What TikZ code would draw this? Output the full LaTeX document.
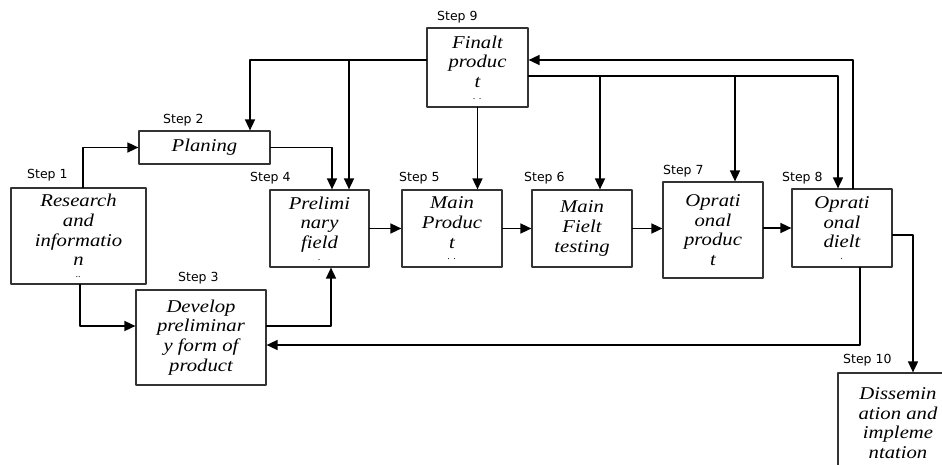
\documentclass[tikz,border=0pt]{standalone}
\usepackage{fontspec}
\usetikzlibrary{arrows.meta}
\newfontfamily\boxfont[FakeStretch=1.15]{Liberation Serif}
\newfontfamily\stepfont{DejaVu Sans}
\newcommand{\dotline}[1]{\\[-8pt]{\fontsize{9}{9}\selectfont #1}}
\begin{document}
\begin{tikzpicture}[x=1pt, y=-1pt, line cap=round, line join=round, >={Triangle[length=11pt,width=10pt]}]
	\tikzset{box/.style={draw=black!80, line width=1.2pt, align=center, inner sep=0pt, font=\boxfont\itshape\fontsize{18}{19.7}\selectfont},
		steplbl/.style={font=\stepfont\fontsize{12.5}{14}\selectfont, anchor=west, inner sep=0pt},
		flow/.style={->, line width=1.6pt}}
	\useasboundingbox (0,0) rectangle (942,465);
	% boxes
	\node[box, minimum width=135pt, minimum height=96pt] (s1) at (78.5,236) {Research\\and\\informatio\\n\dotline{..}};
	\node[box, minimum width=131pt, minimum height=33pt] (s2) at (204.5,147.5) {Planing};
	\node[box, minimum width=130pt, minimum height=95pt] (s3) at (201,337.5) {Develop\\preliminar\\y form of\\product};
	\node[box, minimum width=99pt, minimum height=77pt] (s4) at (319.5,228.5) {Prelimi\\nary\\field\dotline{.}};
	\node[box, minimum width=100pt, minimum height=77pt] (s5) at (452,228.5) {Main\\Produc\\t\dotline{. .}};
	\node[box, minimum width=100pt, minimum height=77pt] (s6) at (582,228.5) {Main\\Fielt\\testing};
	\node[box, minimum width=100pt, minimum height=96pt] (s7) at (713,230) {Oprati\\onal\\produc\\t};
	\node[box, minimum width=100pt, minimum height=78pt] (s8) at (842,228) {Oprati\\onal\\dielt\dotline{.}};
	\node[box, minimum width=101pt, minimum height=79pt] (s9) at (477.5,67.5) {Finalt\\produc\\t\dotline{. .}};
	\node[box, minimum width=120pt, minimum height=100pt] (s10) at (898,423) {Dissemin\\ation and\\impleme\\ntation};
	% step labels
	\node[steplbl] (l1) at (27,175) {Step 1};
	\node[steplbl] (l2) at (163,120) {Step 2};
	\node[steplbl] (l3) at (178,278) {Step 3};
	\node[steplbl] (l4) at (250,178) {Step 4};
	\node[steplbl] (l5) at (399,178) {Step 5};
	\node[steplbl] (l6) at (524,178) {Step 6};
	\node[steplbl] (l7) at (663,171) {Step 7};
	\node[steplbl] (l8) at (782,178) {Step 8};
	\node[steplbl] (l9) at (437,17) {Step 9};
	\node[steplbl] (l10) at (843,360) {Step 10};
	% main row
	\draw[flow] (s4) -- (s5);
	\draw[flow] (s5) -- (s6);
	\draw[flow] (s6) -- (s7.west |- s6);
	\draw[flow] (s7.east |- s8) -- (s8);
	% into step 2, 3 and 4
	\draw[flow] ([xshift=4.5pt]s1.north) |- (s2.west);
	\draw[flow] ([xshift=1.5pt]s1.south) |- ([yshift=11.5pt]s3.west);
	\draw[flow] (s2.east) -| ([xshift=12.5pt]s4.north);
	\draw[flow] ([yshift=11.5pt]s3.east) -| ([xshift=11.5pt]s4.south);
	% from step 9
	\coordinate (w9) at ([yshift=7.5pt]s9.west);
	\coordinate (e9) at ([yshift=-8.5pt]s9.east);
	\coordinate (t4) at ([xshift=29.5pt]s4.north);
	\coordinate (t6) at ([xshift=18pt]s6.north);
	\coordinate (t7) at ([xshift=22pt]s7.north);
	\draw[flow] (w9) -| ([xshift=45.5pt]s2.north);
	\draw[flow] (w9 -| t4) -- (t4);
	\draw[flow] (s9.south) -- (s9.south |- s5.north);
	\draw[flow] (e9) -| ([xshift=-4pt]s8.north);
	\draw[flow] (e9 -| t6) -- (t6);
	\draw[flow] (e9 -| t7) -- (t7);
	% back from step 8
	\draw[flow] ([xshift=11pt]s8.north) |- ([yshift=7.5pt]s9.east);
	\draw[flow] ([xshift=18pt]s8.south) |- ([yshift=-7.5pt]s3.east);
	\draw[flow] ([yshift=-7pt]s8.east) -| ([xshift=15pt]s10.north);
\end{tikzpicture}
\end{document}
